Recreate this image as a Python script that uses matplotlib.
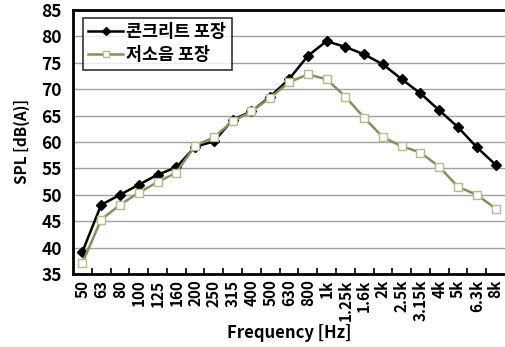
import numpy as np
import matplotlib.pyplot as plt

freq = ["50", "63", "80", "100", "125", "160", "200", "250", "315", "400",
        "500", "630", "800", "1k", "1.25k", "1.6k", "2k", "2.5k", "3.15k",
        "4k", "5k", "6.3k", "8k"]
concrete = [39.2, 48.1, 50.0, 51.9, 53.8, 55.2, 59.1, 60.1, 64.2, 65.8,
            68.6, 71.9, 76.3, 79.1, 78.0, 76.6, 74.7, 71.9, 69.2, 66.0,
            62.8, 59.0, 55.7]
low_noise = [37.1, 45.3, 48.1, 50.4, 52.4, 54.2, 59.3, 60.9, 63.9, 65.8,
             68.4, 71.3, 72.8, 71.9, 68.6, 64.6, 60.9, 59.2, 58.0, 55.3,
             51.5, 50.0, 47.4]
names = ["콘크리트 포장", "저소음 포장"]

plt.rcParams['font.family'] = ['Noto Sans CJK KR', 'DejaVu Sans']

fig = plt.figure(figsize=(5.06, 3.47), dpi=100)
ax = fig.add_axes([73 / 506, 73 / 347, 432 / 506, 264 / 347])

x = np.arange(len(freq))
ax.plot(x, concrete, color="black", lw=1.8, marker="D", ms=5.5,
        mfc="black", mec="black", label=names[0], zorder=3)
ax.plot(x, low_noise, color="#8c8c5e", lw=1.8, marker="s", ms=6,
        mfc="white", mec="#b8b88a", mew=1.0, label=names[1], zorder=4)

ax.set_xlim(-0.5, len(freq) - 0.5)
ax.set_ylim(35, 85)
ax.set_yticks(np.arange(35, 86, 5))
ax.yaxis.grid(True, color="#a0a0a0", lw=1.0)
ax.set_axisbelow(True)

ax.set_xticks(x)
ax.set_xticklabels(freq, rotation=90, fontsize=11, fontweight="bold")
ax.set_xticks(x[:-1] + 0.5, minor=True)
ax.tick_params(axis="x", which="major", length=0, pad=4)
ax.tick_params(axis="x", which="minor", length=4, width=1.2, direction="in")
ax.tick_params(axis="y", length=0, labelsize=12.5, pad=8)
for t in ax.get_yticklabels():
    t.set_fontweight("bold")

for s in ["left", "bottom", "top"]:
    ax.spines[s].set_linewidth(2)
ax.spines["right"].set_visible(False)

ax.set_xlabel("Frequency [Hz]", fontsize=12, fontweight="bold", labelpad=2)
ax.set_ylabel("SPL [dB(A)]", fontsize=11, fontweight="bold", labelpad=8)

leg = ax.legend(loc="upper left", bbox_to_anchor=(0.023, 0.97), frameon=True,
                fancybox=False, edgecolor="black", handlelength=2.0,
                prop={'weight': 'bold', 'size': 12.5},
                borderpad=0.3, labelspacing=0.3, handletextpad=0.2,
                borderaxespad=0, markerscale=0.7)
leg.get_frame().set_linewidth(1.2)

fig.savefig("out.png", dpi=100)
